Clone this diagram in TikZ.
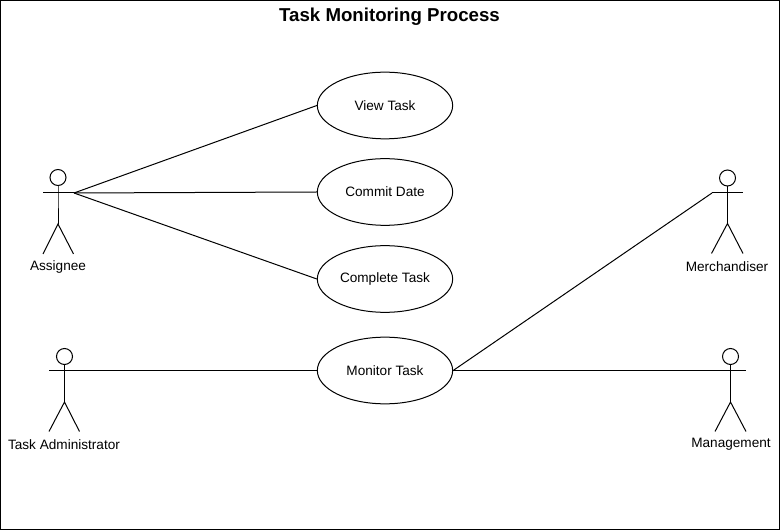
\documentclass[tikz,border=0pt]{standalone}
\usepackage{fontspec}
\setmainfont{Liberation Sans}
\usetikzlibrary{shapes.geometric}

\begin{document}
\begin{tikzpicture}[
                x=0.75pt, y=-0.75pt,
                % Style use case
                usecase/.style={ellipse, draw=black, line width=0.75pt, fill=white, text=black, font=\fontsize{10.2}{12}\selectfont, minimum width=101.5pt, minimum height=50pt, inner sep=0pt},
                % Style actor head
                actorhead/.style={circle, draw=black, line width=0.75pt, minimum size=12pt, inner sep=0pt, outer sep=0pt},
                % Style actor name
                actorname/.style={font=\fontsize{10.2}{12}\selectfont, text=black},
                % Style lines
                limb/.style={draw=black, line width=0.75pt},
                assoc/.style={draw=black, line width=0.75pt}
            ]
                \useasboundingbox (0,0) rectangle (780,530);
                \node[draw=black, line width=0.75pt, minimum width=584.2pt, minimum height=396.7pt, inner sep=0pt] (frame) at (390,265) {};
                \node[font=\bfseries\fontsize{14}{17}\selectfont] (title) at (389.5,17) {Task Monitoring Process};

                % --- USE CASES ---
                \node[usecase] (view) at (385,105.5) {View Task};
                \node[usecase] (commit) at (385,192) {Commit Date};
                \node[usecase] (complete) at (385,279) {Complete Task};
                \node[usecase] (monitor) at (385,370.5) {Monitor Task};

                % --- ACTORS ---
                % Assignee
                \node[actorhead] (assigneehead) at (58,177.5) {};
                \coordinate (assigneeL) at (43,193);
                \coordinate (assigneeR) at (74,193);
                \coordinate (assigneeneck) at (58,193);
                \coordinate (assigneehip) at (58,224);
                \coordinate (assigneefootL) at (43,254);
                \coordinate (assigneefootR) at (73.5,254);
                \draw[limb] (assigneehead) -- (assigneeneck) -- (assigneehip);
                \draw[limb] (assigneeL) -- (assigneeR);
                \draw[limb] (assigneefootL) -- (assigneehip) -- (assigneefootR);
                \node[actorname] (assignee) at (58,266.5) {Assignee};

                % Task Administrator
                \node[actorhead] (adminhead) at (64.5,356.5) {};
                \coordinate (adminL) at (49,370.5);
                \coordinate (adminR) at (80,370.5);
                \coordinate (adminneck) at (64.5,370.5);
                \coordinate (adminhip) at (64.5,402);
                \coordinate (adminfootL) at (49,431.5);
                \coordinate (adminfootR) at (79.5,431.5);
                \draw[limb] (adminhead) -- (adminneck) -- (adminhip);
                \draw[limb] (adminL) -- (adminR);
                \draw[limb] (adminfootL) -- (adminhip) -- (adminfootR);
                \node[actorname] (admin) at (64,444.5) {Task Administrator};

                % Merchandiser
                \node[actorhead] (merchhead) at (727.5,178) {};
                \coordinate (merchL) at (712,193);
                \coordinate (merchR) at (743,193);
                \coordinate (merchneck) at (727.5,193);
                \coordinate (merchhip) at (727.5,223.5);
                \coordinate (merchfootL) at (711.5,253.5);
                \coordinate (merchfootR) at (743,253.5);
                \draw[limb] (merchhead) -- (merchneck) -- (merchhip);
                \draw[limb] (merchL) -- (merchR);
                \draw[limb] (merchfootL) -- (merchhip) -- (merchfootR);
                \node[actorname] (merch) at (727,266.5) {Merchandiser};

                % Management
                \node[actorhead] (mgmthead) at (730.5,356.5) {};
                \coordinate (mgmtL) at (715,370.5);
                \coordinate (mgmtR) at (746,370.5);
                \coordinate (mgmtneck) at (730.5,370.5);
                \coordinate (mgmthip) at (730.5,402);
                \coordinate (mgmtfootL) at (715,431.5);
                \coordinate (mgmtfootR) at (746,431.5);
                \draw[limb] (mgmthead) -- (mgmtneck) -- (mgmthip);
                \draw[limb] (mgmtL) -- (mgmtR);
                \draw[limb] (mgmtfootL) -- (mgmthip) -- (mgmtfootR);
                \node[actorname] (mgmt) at (731,444.5) {Management};

                % --- ASSOCIATIONS ---
                \draw[assoc] (assigneeR) -- (view.west);
                \draw[assoc] (assigneeR) -- (commit.west);
                \draw[assoc] (assigneeR) -- (complete.west);
                \draw[assoc] (adminR) -- (monitor.west);
                \draw[assoc] (monitor.east) -- (merchL);
                \draw[assoc] (monitor.east) -- (mgmtL);

            \end{tikzpicture}
\end{document}
